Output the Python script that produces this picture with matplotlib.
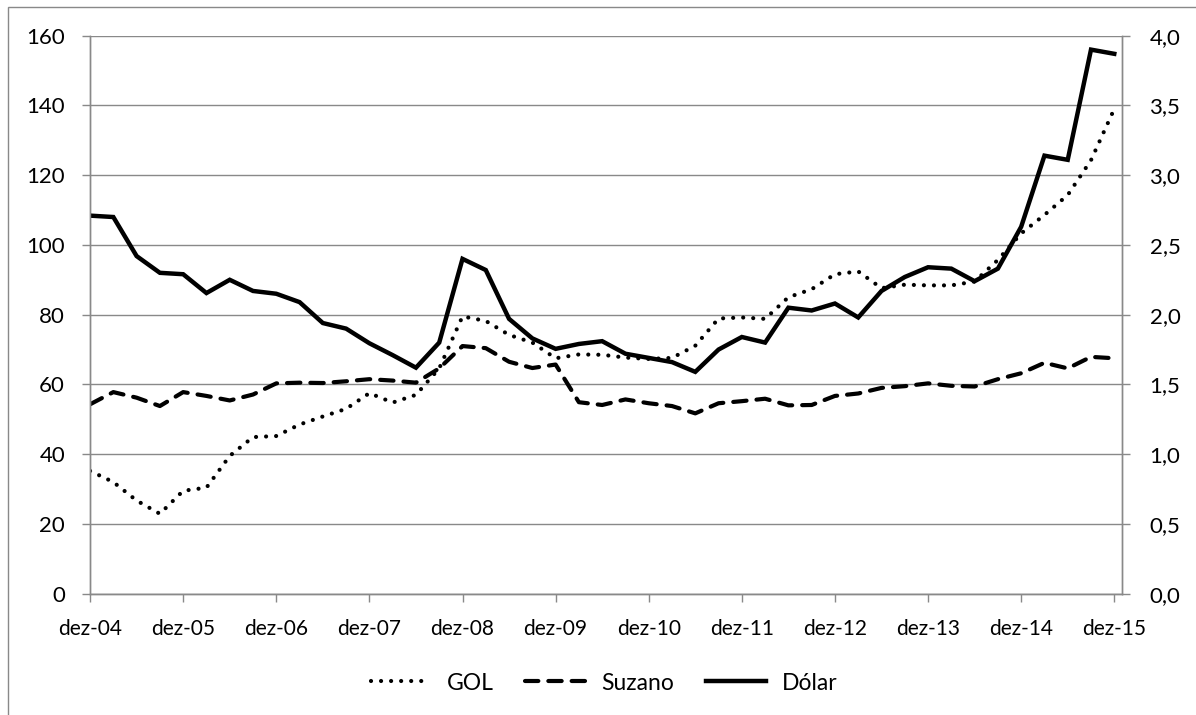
import numpy as np
import matplotlib.pyplot as plt
from matplotlib.patches import Rectangle
from matplotlib.ticker import FuncFormatter

plt.rcParams['font.family'] = ['Lato', 'DejaVu Sans']

# quarterly series, dez-04 .. dez-15
gol = [35.2, 32.0, 26.7, 22.9, 29.5, 30.4, 39.5, 44.9, 45.2, 48.5,
       50.8, 53.0, 57.5, 54.8, 57.0, 64.6, 79.5, 78.2, 74.2, 72.0,
       67.5, 68.6, 68.5, 67.7, 67.3, 67.6, 71.1, 78.9, 79.2, 78.8,
       85.0, 87.3, 91.6, 92.4, 87.6, 88.6, 88.4, 88.4, 89.5, 95.7,
       103.3, 108.6, 114.3, 124.3, 139.0]
suzano = [54.3, 57.8, 56.2, 53.8, 57.8, 56.7, 55.4, 57.1, 60.3, 60.5,
          60.4, 60.9, 61.5, 61.1, 60.5, 64.6, 71.0, 70.4, 66.5, 64.7,
          65.7, 54.9, 54.1, 55.7, 54.6, 53.8, 51.7, 54.6, 55.2, 55.9,
          54.0, 54.1, 56.7, 57.4, 59.0, 59.5, 60.3, 59.6, 59.4, 61.5,
          63.2, 66.2, 64.6, 67.9, 67.5]
dolar = [2.71, 2.70, 2.42, 2.30, 2.29, 2.155, 2.25, 2.17, 2.15, 2.09,
         1.94, 1.90, 1.795, 1.71, 1.62, 1.80, 2.40, 2.32, 1.97, 1.83,
         1.755, 1.79, 1.81, 1.72, 1.69, 1.66, 1.59, 1.75, 1.84, 1.80,
         2.05, 2.03, 2.08, 1.98, 2.17, 2.27, 2.34, 2.33, 2.24, 2.33,
         2.63, 3.14, 3.11, 3.90, 3.87]
year_labels = ['dez-04', 'dez-05', 'dez-06', 'dez-07', 'dez-08', 'dez-09',
               'dez-10', 'dez-11', 'dez-12', 'dez-13', 'dez-14', 'dez-15']

grey = '#898989'
x = np.arange(len(gol))

fig = plt.figure(figsize=(11.96, 7.15), dpi=100)
# outer chart frame
fig.patches.append(Rectangle((7.5 / 1196, -0.1), 1.2, 1.1 - 6.7 / 715,
                             transform=fig.transFigure, fill=False,
                             edgecolor=grey, linewidth=1.0))

ax = fig.add_axes([0.0753, 0.1697, 0.8626, 0.7804])
ax2 = ax.twinx()

l1, = ax.plot(x, gol, color='black', lw=3, linestyle=(0, (0.01, 2.4)),
              dash_capstyle='round', label='GOL')
l2, = ax.plot(x, suzano, color='black', lw=3, linestyle=(0, (3.2, 2.4)),
              dash_capstyle='round', label='Suzano')
l3, = ax2.plot(x, dolar, color='black', lw=3.2, solid_joinstyle='miter',
               label='Dólar')

ax.set_xlim(0, 44.32)
ax.set_ylim(0, 160)
ax2.set_ylim(0, 4.0)
ax.set_yticks(np.arange(0, 161, 20))
ax2.set_yticks(np.arange(0, 4.01, 0.5))
ax2.yaxis.set_major_formatter(FuncFormatter(lambda v, p: f'{v:.1f}'.replace('.', ',')))
ax.set_xticks(np.arange(0, 45, 4))
ax.set_xticklabels(year_labels)

ax.grid(axis='y', color=grey, lw=1.0)
ax.set_axisbelow(True)
for a in (ax, ax2):
    a.spines['top'].set_visible(False)
    for s in ('left', 'right', 'bottom'):
        a.spines[s].set_color(grey)
        a.spines[s].set_linewidth(1.0)
ax.tick_params(axis='y', direction='out', length=6, width=1, color=grey,
               pad=12, labelsize=16)
ax2.tick_params(axis='y', direction='out', length=6, width=1, color=grey,
                pad=14, labelsize=16)
ax.tick_params(axis='x', direction='out', length=6, width=1, color=grey,
               pad=12, labelsize=15)

fig.legend(handles=[l1, l2, l3], loc='center', bbox_to_anchor=(0.505, 1 - 683 / 715),
           ncol=3, frameon=False, fontsize=16.5, handlelength=2.6,
           handletextpad=0.7, columnspacing=1.4)

fig.savefig('out.png', dpi=100)
